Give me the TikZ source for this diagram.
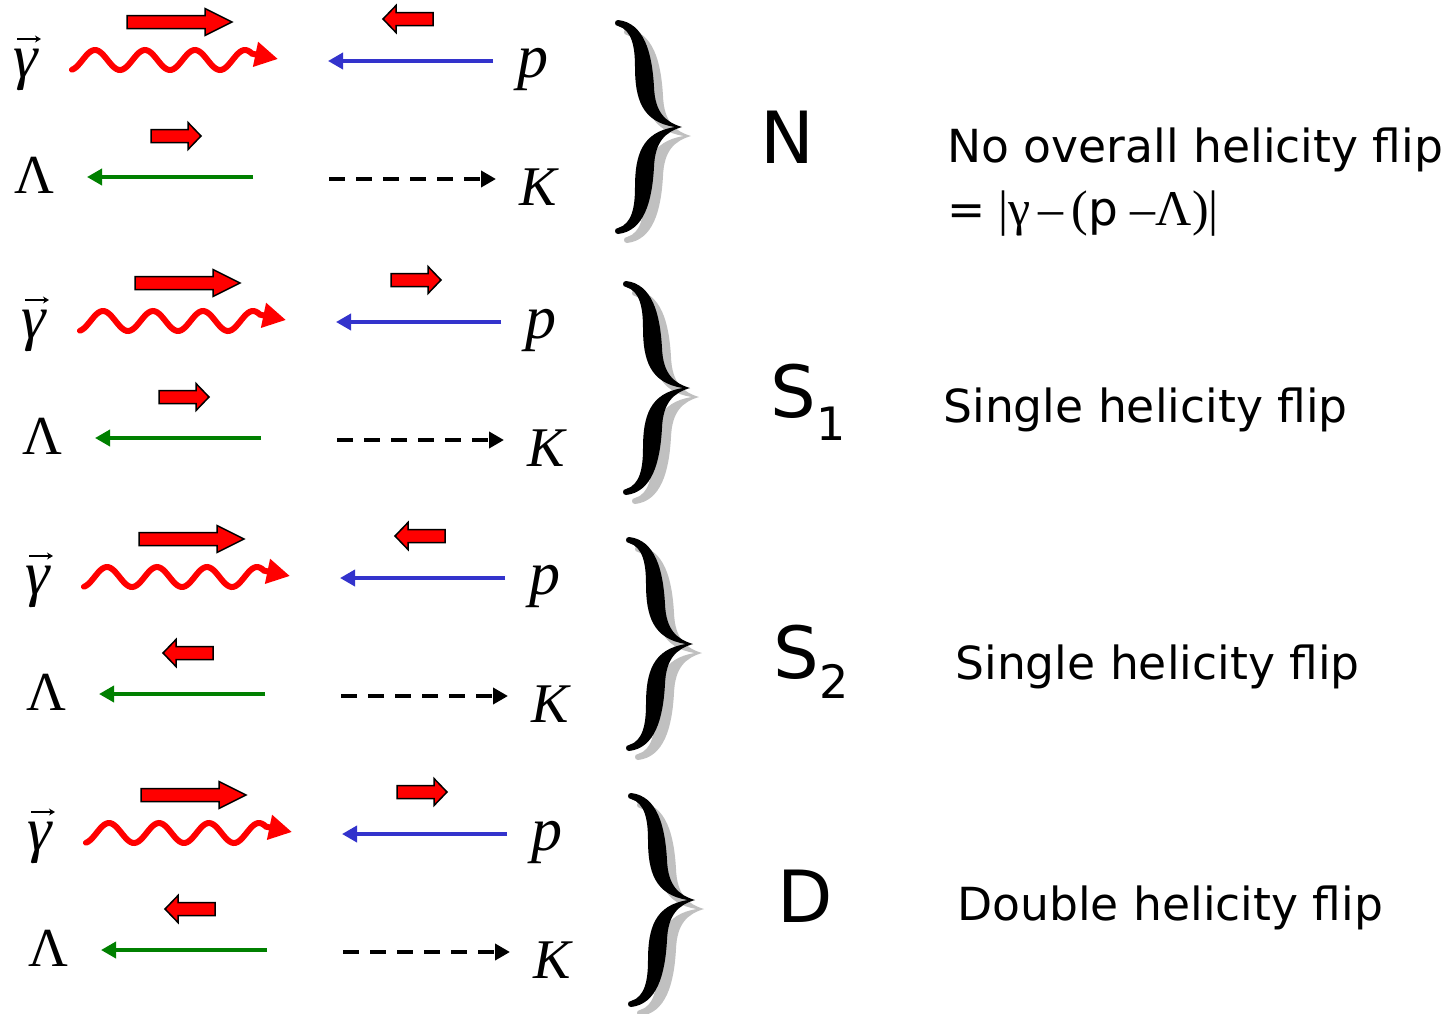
\documentclass[tikz,border=0pt]{standalone}
\usepackage{fontspec}
\setmainfont{Liberation Serif}
\setsansfont{DejaVu Sans}
\usetikzlibrary{arrows.meta}
\definecolor{pblue}{RGB}{51,51,204}
\definecolor{lgreen}{RGB}{0,128,0}
\definecolor{shadowgray}{RGB}{192,192,192}
% spin (helicity) block arrows: #1 left x, #2 right x, #3 centre y, #4 head length
\newcommand\spinR[4]{\draw[spinarrow] (#1,#3-6.5) -- (#2-#4,#3-6.5) -- (#2-#4,#3-13.5) -- (#2,#3) -- (#2-#4,#3+13.5) -- (#2-#4,#3+6.5) -- (#1,#3+6.5) -- cycle;}
\newcommand\spinL[4]{\draw[spinarrow] (#2,#3-6.5) -- (#1+#4,#3-6.5) -- (#1+#4,#3-13.5) -- (#1,#3) -- (#1+#4,#3+13.5) -- (#1+#4,#3+6.5) -- (#2,#3+6.5) -- cycle;}
\tikzset{
  photon/.style={red, line width=3pt, line cap=round, -{Triangle[length=11.5pt,width=12pt]}},
  protonline/.style={pblue, line width=1.8pt, -{Triangle[length=7.5pt,width=8pt]}},
  lambdaline/.style={lgreen, line width=1.8pt, -{Triangle[length=7.5pt,width=8pt]}},
  kaonline/.style={black, line width=2pt, dash pattern=on 8pt off 5.5pt, -{Triangle[length=7.5pt,width=8pt]}},
  spinarrow/.style={fill=red, draw=black, line width=0.75pt, line join=miter},
  vecarrow/.style={black, line width=0.6pt, -{Stealth[length=3pt,width=3.5pt]}},
  greek/.style={inner sep=0pt, anchor=base, font=\fontsize{31}{33}\selectfont\itshape},
  caps/.style={inner sep=0pt, anchor=base, font=\fontsize{27.5}{30}\selectfont},
  capsit/.style={inner sep=0pt, anchor=base, font=\fontsize{28}{30}\selectfont\itshape},
  biglabel/.style={inner sep=0pt, anchor=base west, font=\sffamily\fontsize{36}{40}\selectfont},
  desc/.style={inner sep=0pt, anchor=base west, font=\sffamily\fontsize{22.8}{26}\selectfont},
  pics/curlybrace/.style={code={
    \fill[#1] (0,0) .. controls (-17,-5) and (-27,-15) .. (-28,-40)
      .. controls (-30,-75) and (-38,-104) .. (-64,-107)
      .. controls (-68,-107) and (-68,-101) .. (-64,-101)
      .. controls (-50,-97) and (-47,-80) .. (-47,-60)
      .. controls (-47,-28) and (-40,-5) .. (-7,0)
      .. controls (-40,5) and (-47,28) .. (-47,60)
      .. controls (-47,80) and (-50,97) .. (-64,101)
      .. controls (-68,101) and (-68,107) .. (-64,107)
      .. controls (-38,104) and (-30,75) .. (-28,40)
      .. controls (-27,15) and (-17,5) .. (0,0) -- cycle;
  }}
}
\begin{document}
\begin{tikzpicture}[x=0.5pt,y=-0.5pt]
\fill[white] (0,0) rectangle (1452,1013);
\useasboundingbox (0,0) rectangle (1452,1013);

\foreach \i/\dx/\dy/\pd/\ld/\bx in {1/0/0/L/R/0, 2/8/261/R/R/8, 3/12/517/L/L/11, 4/14/773/R/L/13}{
  % labels
  \node[greek] (g\i) at (26+\dx,77+\dy) {γ};
  \draw[vecarrow] (17+\dx,39+\dy) -- (41+\dx,39+\dy);
  \node[greek] (p\i) at (533+\dx,77+\dy) {p};
  \node[caps] (L\i) at (34+\dx,193+\dy) {Λ};
  \node[capsit] (K\i) at (538+\dx,205+\dy) {K};
  % photon
  \draw[photon] plot[domain=72:252,samples=90,smooth] ({\x+\dx},{60+\dy-10*cos(7.2*(\x-95))}) -- (278+\dx,59+\dy);
  % proton, lambda, kaon lines
  \coordinate (ps\i) at (493+\dx,61+\dy);
  \coordinate (pe\i) at (328+\dx,61+\dy);
  \draw[protonline] (ps\i) -- (pe\i);
  \coordinate (ls\i) at (253+\dx,177+\dy);
  \coordinate (le\i) at (87+\dx,177+\dy);
  \draw[lambdaline] (ls\i) -- (le\i);
  \coordinate (ks\i) at (329+\dx,179+\dy);
  \coordinate (ke\i) at (496+\dx,179+\dy);
  \draw[kaonline] (ks\i) -- (ke\i);
  % helicity arrows
  \spinR{127+\dx}{232+\dx}{22+\dy}{27}
  \csname spin\pd\endcsname{383+\dx}{433+\dx}{19+\dy}{13}
  \csname spin\ld\endcsname{151+\dx}{201+\dx}{136+\dy}{13}
  % brace with shadow
  \pic at ({691+\bx},{136+\dy}) {curlybrace=shadowgray};
  \pic at ({682+\bx},{127+\dy}) {curlybrace=black};
}

\node[biglabel] (N) at (760,163) {N};
\node[desc] (Nt) at (947,162) {No overall helicity flip};
\node[inner sep=0pt, anchor=base west] (Nf) at (947,225) {{\sffamily\fontsize{22.8}{26}\selectfont =}\fontsize{25}{28}\selectfont\ |γ\,–\,({\sffamily\fontsize{23.5}{26}\selectfont p}\ –Λ)|};

\node[biglabel] (S1) at (770,417) {S\raisebox{-11.5pt}{\fontsize{23}{26}\selectfont 1}};
\node[desc] (S1t) at (943,422) {Single helicity flip};

\node[biglabel] (S2) at (773,678) {S\raisebox{-10pt}{\fontsize{23}{26}\selectfont 2}};
\node[desc] (S2t) at (955,679) {Single helicity flip};

\node[biglabel] (D) at (777,922) {D};
\node[desc] (Dt) at (957,920) {Double helicity flip};
\end{tikzpicture}
\end{document}
